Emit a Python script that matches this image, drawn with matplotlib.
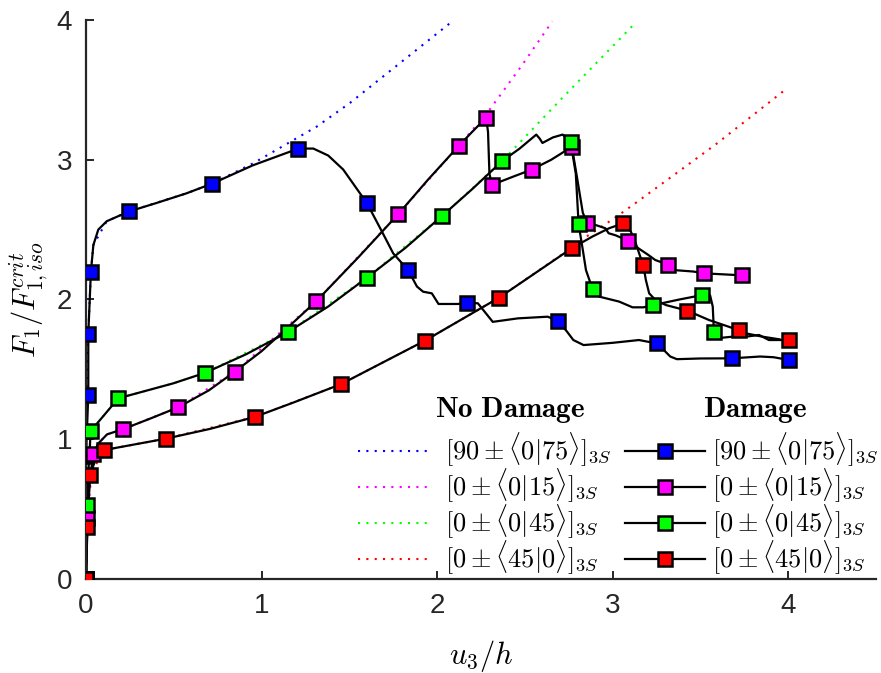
import numpy as np
import matplotlib
matplotlib.use("Agg")
import matplotlib.pyplot as plt
from matplotlib.lines import Line2D

plt.rcParams['font.family'] = ['Liberation Sans', 'DejaVu Sans']
plt.rcParams['mathtext.fontset'] = 'cm'

# series labels
labels = [r'$[90 \pm \langle 0|75\rangle]_{3S}$',
          r'$[0 \pm \langle 0|15\rangle]_{3S}$',
          r'$[0 \pm \langle 0|45\rangle]_{3S}$',
          r'$[0 \pm \langle 45|0\rangle]_{3S}$']
colors = ['#0000ff', '#ff00ff', '#00ff00', '#ff0000']

# ---- damage curves (solid black) ----
blue_x = [0, 0.0, 0.013, 0.013, 0.028, 0.042, 0.07, 0.118, 0.245, 0.40, 0.573, 0.72, 0.95, 1.21,
          1.295, 1.38, 1.465, 1.60, 1.68, 1.75, 1.835, 1.885, 1.92, 1.97, 2.008, 2.12, 2.17, 2.232,
          2.317, 2.46, 2.63, 2.69, 2.74, 2.776, 2.834, 3.0, 3.15, 3.25, 3.29, 3.328, 3.366, 3.5,
          3.678, 3.84, 3.916, 4.006]
blue_y = [0, 0.88, 1.32, 1.753, 2.2, 2.39, 2.50, 2.56, 2.63, 2.69, 2.76, 2.83, 2.96, 3.08,
          3.08, 3.03, 2.93, 2.69, 2.50, 2.33, 2.21, 2.093, 2.056, 2.044, 1.968, 1.968, 1.977, 1.973,
          1.84, 1.865, 1.877, 1.846, 1.77, 1.71, 1.674, 1.69, 1.71, 1.686, 1.64, 1.592, 1.573, 1.578,
          1.579, 1.592, 1.587, 1.567]
blue_mx = [0, 0.0, 0.013, 0.013, 0.028, 0.245, 0.72, 1.21, 1.60, 1.835, 2.17, 2.69, 3.25, 3.678, 4.006]
blue_my = [0, 0.88, 1.32, 1.753, 2.2, 2.63, 2.83, 3.08, 2.69, 2.21, 1.977, 1.846, 1.686, 1.579, 1.567]

magenta_x = [0, 0.004, 0.008, 0.02, 0.042, 0.07, 0.12, 0.213, 0.37, 0.526, 0.70, 0.848, 1.0, 1.15,
             1.311, 1.55, 1.778, 1.95, 2.124, 2.2, 2.279, 2.29, 2.298, 2.312, 2.435, 2.54, 2.65,
             2.744, 2.768, 2.80, 2.83, 2.854, 2.91, 2.958, 2.977, 3.015, 3.09, 3.147, 3.204, 3.242,
             3.313, 3.356, 3.46, 3.523, 3.737]
magenta_y = [0, 0.2, 0.44, 0.7, 0.892, 0.97, 1.035, 1.073, 1.15, 1.229, 1.35, 1.484, 1.63, 1.80,
             1.987, 2.30, 2.61, 2.86, 3.10, 3.20, 3.30, 3.2, 2.90, 2.82, 2.88, 2.93, 3.0,
             3.074, 3.09, 2.85, 2.62, 2.55, 2.53, 2.51, 2.474, 2.46, 2.42, 2.366, 2.318, 2.283,
             2.25, 2.21, 2.2, 2.187, 2.173]
magenta_mx = [0, 0.008, 0.042, 0.213, 0.526, 0.848, 1.311, 1.778, 2.124, 2.279, 2.312, 2.54, 2.768,
              2.854, 3.09, 3.313, 3.523, 3.737]
magenta_my = [0, 0.44, 0.892, 1.073, 1.229, 1.484, 1.987, 2.61, 3.10, 3.30, 2.82, 2.93, 3.09,
              2.55, 2.42, 2.25, 2.187, 2.173]

green_x = [0, 0.004, 0.008, 0.015, 0.027, 0.184, 0.497, 0.68, 0.915, 1.15, 1.38, 1.598, 1.82, 2.03,
           2.2, 2.37, 2.47, 2.565, 2.585, 2.60, 2.66, 2.715, 2.76, 2.79, 2.806, 2.83, 2.848, 2.886,
           2.925, 3.037, 3.113, 3.175, 3.231, 3.38, 3.511, 3.555, 3.57, 3.577, 3.588, 3.683, 3.758,
           3.853, 3.95]
green_y = [0, 0.25, 0.53, 0.8, 1.059, 1.293, 1.40, 1.476, 1.61, 1.767, 1.95, 2.154, 2.37, 2.60,
           2.79, 2.99, 3.08, 3.18, 3.15, 3.12, 3.16, 3.18, 3.13, 2.9, 2.54, 2.354, 2.21, 2.073,
           2.02, 1.985, 1.944, 1.944, 1.96, 2.0, 2.032, 2.03, 1.95, 1.765, 1.722, 1.734, 1.758,
           1.734, 1.715]
green_mx = [0, 0.008, 0.027, 0.184, 0.68, 1.15, 1.598, 2.03, 2.37, 2.76, 2.806, 2.886, 3.231, 3.511, 3.577]
green_my = [0, 0.53, 1.059, 1.293, 1.476, 1.767, 2.154, 2.60, 2.99, 3.13, 2.54, 2.073, 1.96, 2.032, 1.765]

red_x = [0, 0.008, 0.023, 0.05, 0.075, 0.104, 0.454, 0.706, 0.96, 1.18, 1.452, 1.93, 2.353, 2.766,
         2.884, 2.98, 3.06, 3.104, 3.132, 3.159, 3.174, 3.189, 3.208, 3.244, 3.304, 3.426, 3.549,
         3.72, 3.758, 3.834, 3.89, 3.957, 4.004]
red_y = [0, 0.37, 0.744, 0.84, 0.9, 0.923, 1.004, 1.074, 1.159, 1.262, 1.394, 1.705, 2.013, 2.366,
         2.45, 2.51, 2.545, 2.485, 2.40, 2.30, 2.25, 2.14, 2.044, 1.996, 1.96, 1.92, 1.853,
         1.78, 1.734, 1.746, 1.71, 1.71, 1.71]
red_mx = [0, 0.008, 0.023, 0.104, 0.454, 0.96, 1.452, 1.93, 2.353, 2.766, 3.06, 3.174, 3.426, 3.72, 4.004]
red_my = [0, 0.37, 0.744, 0.923, 1.004, 1.159, 1.394, 1.705, 2.013, 2.366, 2.545, 2.25, 1.92, 1.78, 1.71]

# ---- no-damage curves (dotted, coloured) ----
nd_blue_x = [0, 0.0, 0.013, 0.028, 0.042, 0.118, 0.245, 0.573, 0.72, 0.953, 1.314, 1.503, 2.076]
nd_blue_y = [0, 0.88, 1.753, 2.2, 2.39, 2.56, 2.63, 2.76, 2.83, 2.975, 3.237, 3.406, 3.98]
nd_magenta_x = [0, 0.008, 0.042, 0.07, 0.12, 0.213, 0.526, 0.848, 1.311, 1.778, 2.124, 2.30, 2.48, 2.656]
nd_magenta_y = [0, 0.44, 0.892, 0.97, 1.035, 1.073, 1.229, 1.484, 1.987, 2.61, 3.10, 3.36, 3.67, 3.99]
nd_green_x = [0, 0.008, 0.027, 0.184, 0.497, 0.68, 1.15, 1.598, 2.03, 2.37, 2.715, 3.13]
nd_green_y = [0, 0.53, 1.059, 1.293, 1.40, 1.476, 1.767, 2.154, 2.60, 2.99, 3.445, 3.98]
nd_red_x = [0, 0.008, 0.023, 0.104, 0.454, 0.96, 1.452, 1.93, 2.353, 2.766, 2.838, 2.924, 3.028,
            3.141, 3.587, 3.976]
nd_red_y = [0, 0.37, 0.744, 0.923, 1.004, 1.159, 1.394, 1.705, 2.013, 2.37, 2.44, 2.51, 2.598,
            2.70, 3.11, 3.494]

damage = [(blue_x, blue_y, blue_mx, blue_my),
          (magenta_x, magenta_y, magenta_mx, magenta_my),
          (green_x, green_y, green_mx, green_my),
          (red_x, red_y, red_mx, red_my)]
no_damage = [(nd_blue_x, nd_blue_y), (nd_magenta_x, nd_magenta_y),
             (nd_green_x, nd_green_y), (nd_red_x, nd_red_y)]

fig = plt.figure(figsize=(8.81, 6.73), dpi=100)
ax = fig.add_axes([86 / 881, 94 / 673, 790 / 881, 559 / 673])

dots = (0, (1, 3))
for (x, y), c in zip(no_damage, colors):
    ax.plot(x, y, color=c, linestyle=dots, linewidth=1.5, zorder=1)

for (x, y, mx, my), c in zip(damage, colors):
    ax.plot(x, y, color='black', linewidth=1.6, zorder=2)
    ax.plot(mx, my, linestyle='none', marker='s', markersize=9.5, markerfacecolor=c,
            markeredgecolor='black', markeredgewidth=1.8, zorder=3)

ax.set_xlim(0, 4.5)
ax.set_ylim(0, 4)
ax.set_xticks([0, 1, 2, 3, 4])
ax.set_yticks([0, 1, 2, 3, 4])
for s in ['top', 'right']:
    ax.spines[s].set_visible(False)
for s in ['left', 'bottom']:
    ax.spines[s].set_color('#262626')
    ax.spines[s].set_linewidth(1.6)
ax.tick_params(direction='in', length=6, width=1.4, color='#262626',
               labelsize=20, labelcolor='#262626', pad=10)

ax.set_xlabel(r'$u_3/h$', fontsize=22)
ax.set_ylabel(r'$F_1/F_{1,iso}^{crit}$', fontsize=22)
ax.xaxis.set_label_coords(0.5, -0.105)
ax.yaxis.set_label_coords(-0.045, 0.5)

nd_handles = [Line2D([], [], color=c, linestyle=dots, linewidth=1.5) for c in colors]
d_handles = [Line2D([], [], color='black', linewidth=1.6, marker='s', markersize=9.5,
                    markerfacecolor=c, markeredgecolor='black', markeredgewidth=1.8)
             for c in colors]

leg_kw = dict(loc='upper left', bbox_transform=fig.transFigure, frameon=False, fontsize=19,
              borderpad=0, borderaxespad=0, labelspacing=-0.08)
leg1 = ax.legend(nd_handles, labels, bbox_to_anchor=(358 / 881, 1 - 431 / 673),
                 handlelength=2.8, handletextpad=0.5, **leg_kw)
ax.add_artist(leg1)
leg2 = ax.legend(d_handles, labels, bbox_to_anchor=(625 / 881, 1 - 431 / 673),
                 handlelength=3.03, handletextpad=0.25, numpoints=1, **leg_kw)

fig.text(510 / 881, 1 - 410 / 673, r'$\mathbf{No\ Damage}$', fontsize=21, ha='center', va='center')
fig.text(755 / 881, 1 - 410 / 673, r'$\mathbf{Damage}$', fontsize=21, ha='center', va='center')

fig.savefig('out.png', dpi=100)
